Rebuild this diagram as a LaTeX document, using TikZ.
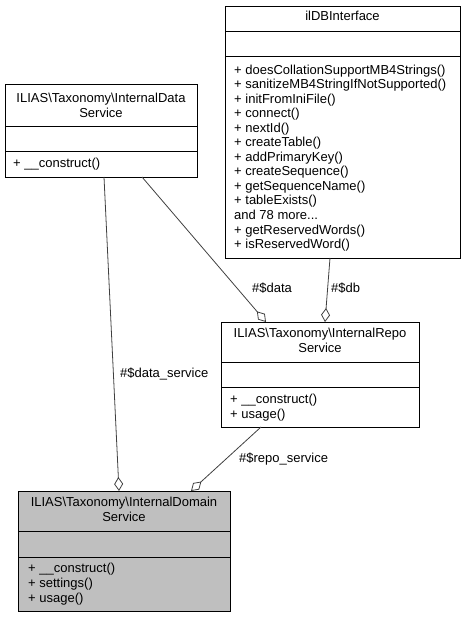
\documentclass[tikz,border=0pt]{standalone}
\usepackage{fontspec}
\setmainfont{Liberation Sans}
\usetikzlibrary{arrows.meta}
\begin{document}
\begin{tikzpicture}[x=1pt,y=-1pt,
  box/.style={draw=black,line width=1pt,rectangle,inner sep=0pt,anchor=north west},
  txt/.style={font=\fontsize{13pt}{15pt}\selectfont,inner sep=0pt,anchor=base west},
  ttl/.style={font=\fontsize{13pt}{15pt}\selectfont,inner sep=0pt,anchor=base},
  lbl/.style={font=\fontsize{13pt}{15pt}\selectfont,inner sep=0pt,anchor=base west},
  rel/.style={draw=black!75,line width=0.8pt,-{Diamond[open,length=14pt,width=9pt]}}]
\useasboundingbox (0,0) rectangle (466,617);
% iDBInterface
\node[box,minimum width=235pt,minimum height=252pt] (idb) at (225,6) {};
\draw[line width=1pt] (225,32) -- (460,32) (225,57) -- (460,57);
\node[ttl] (idbt) at (342.5,21) {ilDBInterface};
\node[txt] (idb1) at (234,74.5) {+ doesCollationSupportMB4Strings()};
\node[txt] (idb2) at (234,89) {+ sanitizeMB4StringIfNotSupported()};
\node[txt] (idb3) at (234,103.5) {+ initFromIniFile()};
\node[txt] (idb4) at (234,118) {+ connect()};
\node[txt] (idb5) at (234,132.5) {+ nextId()};
\node[txt] (idb6) at (234,147) {+ createTable()};
\node[txt] (idb7) at (234,161.5) {+ addPrimaryKey()};
\node[txt] (idb8) at (234,176) {+ createSequence()};
\node[txt] (idb9) at (234,190.5) {+ getSequenceName()};
\node[txt] (idb10) at (234,205) {+ tableExists()};
\node[txt] (idb11) at (234,219.5) {and 78 more...};
\node[txt] (idb12) at (234,234) {+ getReservedWords()};
\node[txt] (idb13) at (234,248.5) {+ isReservedWord()};
% InternalDataService
\node[box,minimum width=192pt,minimum height=93pt] (data) at (5,84) {};
\draw[line width=1pt] (5,127) -- (197,127) (5,152) -- (197,152);
\node[ttl] (datat1) at (101,102.5) {ILIAS\textbackslash Taxonomy\textbackslash InternalData};
\node[ttl] (datat2) at (101,117.5) {Service};
\node[txt] (data1) at (13,167.5) {+ \_\_construct()};
% InternalRepoService
\node[box,minimum width=198pt,minimum height=105pt] (repo) at (221,322) {};
\draw[line width=1pt] (221,362) -- (419,362) (221,387) -- (419,387);
\node[ttl] (repot1) at (320,337.5) {ILIAS\textbackslash Taxonomy\textbackslash InternalRepo};
\node[ttl] (repot2) at (320,352.5) {Service};
\node[txt] (repo1) at (230,403.5) {+ \_\_construct()};
\node[txt] (repo2) at (230,418.5) {+ usage()};
% InternalDomainService
\node[box,fill=black!25,minimum width=212pt,minimum height=120pt] (dom) at (18,491) {};
\draw[line width=1pt] (18,531) -- (230,531) (18,557) -- (230,557);
\node[ttl] (domt1) at (124,506.5) {ILIAS\textbackslash Taxonomy\textbackslash InternalDomain};
\node[ttl] (domt2) at (124,521.5) {Service};
\node[txt] (dom1) at (28,572.5) {+ \_\_construct()};
\node[txt] (dom2) at (28,587.5) {+ settings()};
\node[txt] (dom3) at (28,602.5) {+ usage()};
% connectors
\coordinate (a1) at (104,177); \coordinate (a2) at (119,491);
\coordinate (b1) at (142,177); \coordinate (b2) at (266,322);
\coordinate (c1) at (330,258); \coordinate (c2) at (325,322);
\coordinate (d1) at (261,427); \coordinate (d2) at (191,491);
\draw[rel] (a1) -- (a2);
\draw[rel] (b1) -- (b2);
\draw[rel] (c1) -- (c2);
\draw[rel] (d1) -- (d2);
\node[lbl] (l1) at (120,377.5) {\#\$data\_service};
\node[lbl] (l2) at (252,292.5) {\#\$data};
\node[lbl] (l3) at (331,292.5) {\#\$db};
\node[lbl] (l4) at (239,462.5) {\#\$repo\_service};
\end{tikzpicture}
\end{document}
